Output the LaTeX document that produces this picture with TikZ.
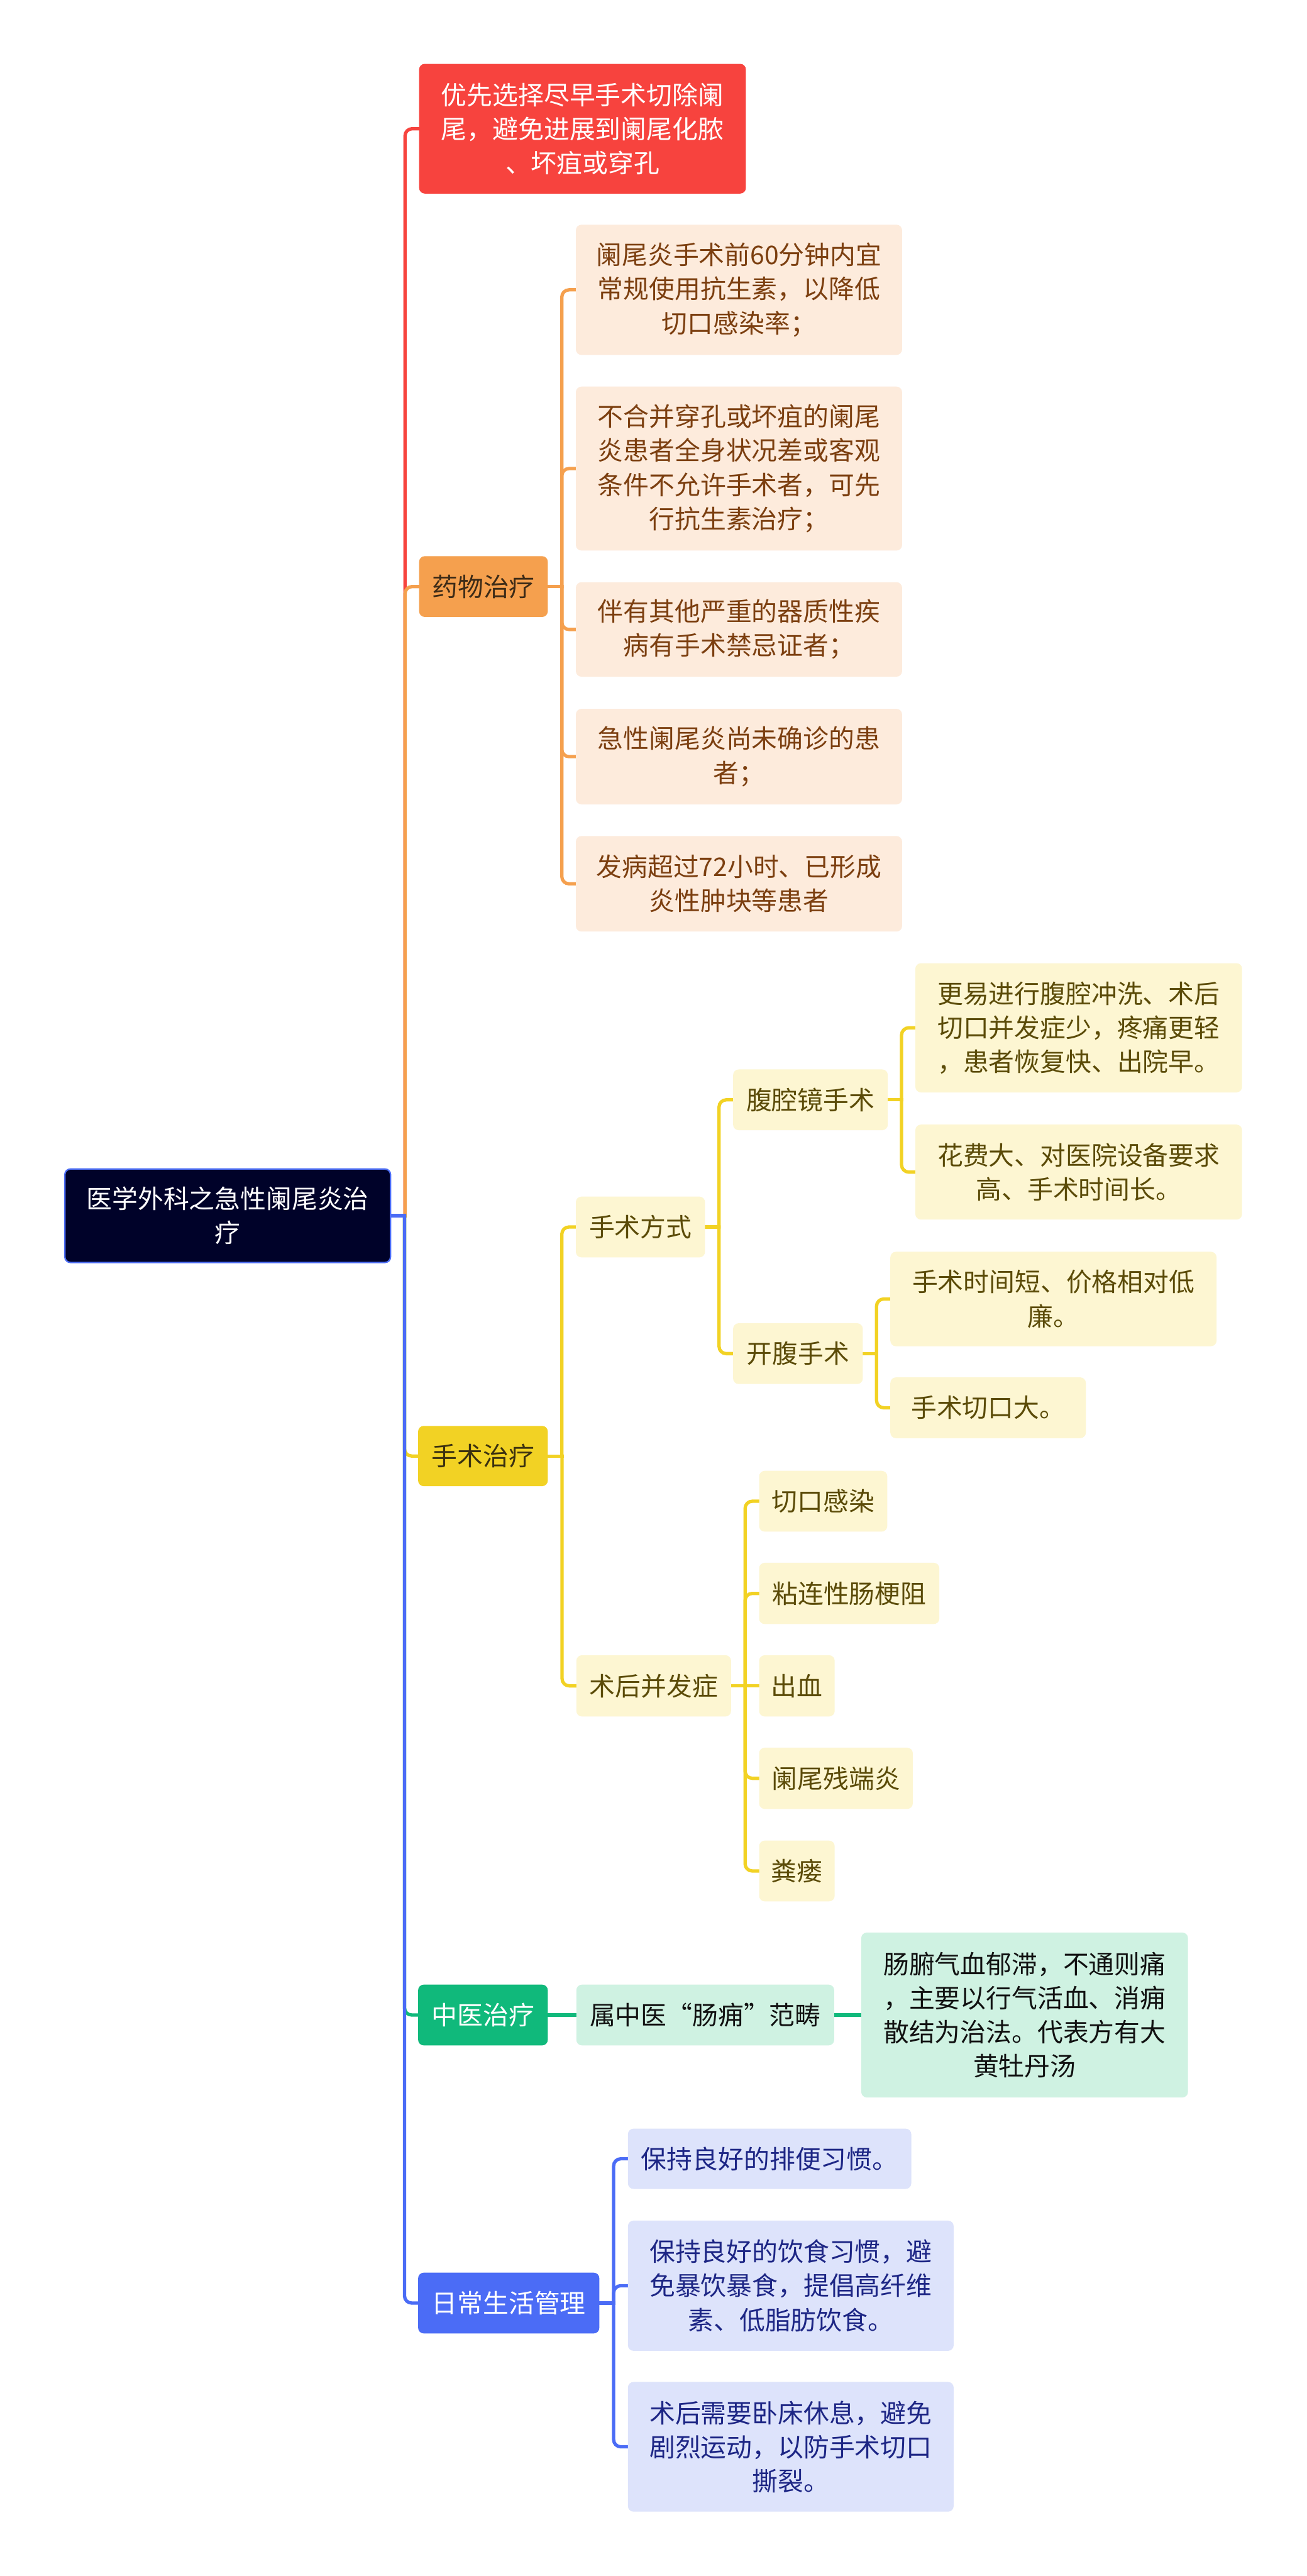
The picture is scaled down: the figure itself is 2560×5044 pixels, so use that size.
\documentclass[tikz,border=0pt]{standalone}
\usepackage{fontspec}
\newfontfamily\cjk{Noto Sans CJK SC}
\usetikzlibrary{calc,backgrounds}
\definecolor{rootfill}{HTML}{000229}
\definecolor{rootborder}{HTML}{4D6EF5}
\definecolor{cred}{HTML}{F7433E}
\definecolor{corange}{HTML}{F5A04E}
\definecolor{ofill}{HTML}{FDEBDC}
\definecolor{otext}{HTML}{7C3F10}
\definecolor{onodetext}{HTML}{3D2B17}
\definecolor{cyellow}{HTML}{F2D224}
\definecolor{yfill}{HTML}{FDF6D2}
\definecolor{ytext}{HTML}{5B4B08}
\definecolor{ynodetext}{HTML}{3B3110}
\definecolor{cgreen}{HTML}{10B97B}
\definecolor{gfill}{HTML}{CFF2E2}
\definecolor{gtext}{HTML}{111111}
\definecolor{cblue}{HTML}{4B6CF6}
\definecolor{bfill}{HTML}{DDE3FB}
\definecolor{btext}{HTML}{1D2685}
\newcommand\bx[7]{%
  \node[#1, minimum width={(#5-#3)*0.01cm}, minimum height={(#6-#4)*0.01cm}] (#2) at ({(#3+#5)/2},{(#4+#6)/2}) {#7};}
\newcommand\cn[3]{%
  \draw[link,#1] (#2.east) -- ($(#2.east)!0.5!(#2.east -| #3.west)$) coordinate (tmp);
  \draw[link,#1,rounded corners=0.14cm] (tmp) |- (#3.west);}
\newcommand\cs[3]{%
  \draw[link,#1] (#2.east) -- (#3.west);}
\begin{document}
\begin{tikzpicture}[x=0.01cm,y=-0.01cm,
  box/.style={rounded corners=0.11cm, inner sep=0pt, align=center,
    font={\cjk\fontsize{14.3pt}{19pt}\selectfont}},
  rootbox/.style={box, fill=rootfill, draw=rootborder, line width=0.8pt, text=white},
  redbox/.style={box, fill=cred, text=white},
  orangebox/.style={box, fill=corange, text=onodetext},
  ochild/.style={box, fill=ofill, text=otext},
  yellowbox/.style={box, fill=cyellow, text=ynodetext},
  ychild/.style={box, fill=yfill, text=ytext},
  greenbox/.style={box, fill=cgreen, text=white},
  gchild/.style={box, fill=gfill, text=gtext},
  bluebox/.style={box, fill=cblue, text=white},
  bchild/.style={box, fill=bfill, text=btext},
  link/.style={line width=0.065cm, line cap=rect}]
\useasboundingbox (0,0) rectangle (2560,5044);

\bx{rootbox}{root}{127}{2289}{765}{2472}{医学外科之急性阑尾炎治\\疗}

\bx{redbox}{n1}{821}{125}{1461}{379}{优先选择尽早手术切除阑\\尾，避免进展到阑尾化脓\\、坏疽或穿孔}

\bx{orangebox}{n2}{821}{1089}{1073}{1208}{药物治疗}
\bx{ochild}{o1}{1128}{440}{1767}{695}{阑尾炎手术前60分钟内宜\\常规使用抗生素，以降低\\切口感染率；}
\bx{ochild}{o2}{1128}{757}{1767}{1078}{不合并穿孔或坏疽的阑尾\\炎患者全身状况差或客观\\条件不允许手术者，可先\\行抗生素治疗；}
\bx{ochild}{o3}{1128}{1140}{1767}{1325}{伴有其他严重的器质性疾\\病有手术禁忌证者；}
\bx{ochild}{o4}{1128}{1388}{1767}{1575}{急性阑尾炎尚未确诊的患\\者；}
\bx{ochild}{o5}{1128}{1637}{1767}{1824}{发病超过72小时、已形成\\炎性肿块等患者}

\bx{yellowbox}{n3}{819}{2792}{1073}{2910}{手术治疗}
\bx{ychild}{y1}{1128}{2343}{1381}{2462}{手术方式}
\bx{ychild}{y11}{1436}{2094}{1739}{2213}{腹腔镜手术}
\bx{ychild}{y111}{1793}{1886}{2433}{2139}{更易进行腹腔冲洗、术后\\切口并发症少，疼痛更轻\\，患者恢复快、出院早。}
\bx{ychild}{y112}{1793}{2202}{2433}{2388}{花费大、对医院设备要求\\高、手术时间长。}
\bx{ychild}{y12}{1436}{2591}{1690}{2710}{开腹手术}
\bx{ychild}{y121}{1744}{2451}{2383}{2636}{手术时间短、价格相对低\\廉。}
\bx{ychild}{y122}{1744}{2697}{2127}{2816}{手术切口大。}
\bx{ychild}{y2}{1129}{3241}{1432}{3361}{术后并发症}
\bx{ychild}{y21}{1487}{2880}{1738}{2999}{切口感染}
\bx{ychild}{y22}{1487}{3060}{1840}{3180}{粘连性肠梗阻}
\bx{ychild}{y23}{1487}{3241}{1635}{3361}{出血}
\bx{ychild}{y24}{1487}{3422}{1788}{3542}{阑尾残端炎}
\bx{ychild}{y25}{1487}{3604}{1635}{3723}{粪瘘}

\bx{greenbox}{n4}{819}{3886}{1073}{4005}{中医治疗}
\bx{gchild}{g1}{1129}{3886}{1634}{4005}{属中医“肠痈”范畴}
\bx{gchild}{g11}{1687}{3784}{2327}{4107}{肠腑气血郁滞，不通则痛\\，主要以行气活血、消痈\\散结为治法。代表方有大\\黄牡丹汤}

\bx{bluebox}{n5}{819}{4450}{1174}{4569}{日常生活管理}
\bx{bchild}{b1}{1230}{4168}{1785}{4286}{保持良好的排便习惯。}
\bx{bchild}{b2}{1230}{4348}{1868}{4603}{保持良好的饮食习惯，避\\免暴饮暴食，提倡高纤维\\素、低脂肪饮食。}
\bx{bchild}{b3}{1230}{4664}{1868}{4918}{术后需要卧床休息，避免\\剧烈运动，以防手术切口\\撕裂。}

\begin{scope}[on background layer]
\fill[white] (0,0) rectangle (2560,5044);
\cn{cred}{root}{n1}
\cn{corange}{root}{n2}
\cn{cyellow}{root}{n3}
\cn{cgreen}{root}{n4}
\cn{cblue}{root}{n5}
\cn{corange}{n2}{o1}
\cn{corange}{n2}{o2}
\cn{corange}{n2}{o3}
\cn{corange}{n2}{o4}
\cn{corange}{n2}{o5}
\cn{cyellow}{n3}{y1}
\cn{cyellow}{n3}{y2}
\cn{cyellow}{y1}{y11}
\cn{cyellow}{y1}{y12}
\cn{cyellow}{y11}{y111}
\cn{cyellow}{y11}{y112}
\cn{cyellow}{y12}{y121}
\cn{cyellow}{y12}{y122}
\cn{cyellow}{y2}{y21}
\cn{cyellow}{y2}{y22}
\cs{cyellow}{y2}{y23}
\cn{cyellow}{y2}{y24}
\cn{cyellow}{y2}{y25}
\cs{cgreen}{n4}{g1}
\cs{cgreen}{g1}{g11}
\cn{cblue}{n5}{b1}
\cn{cblue}{n5}{b2}
\cn{cblue}{n5}{b3}
\end{scope}
\end{tikzpicture}
\end{document}
